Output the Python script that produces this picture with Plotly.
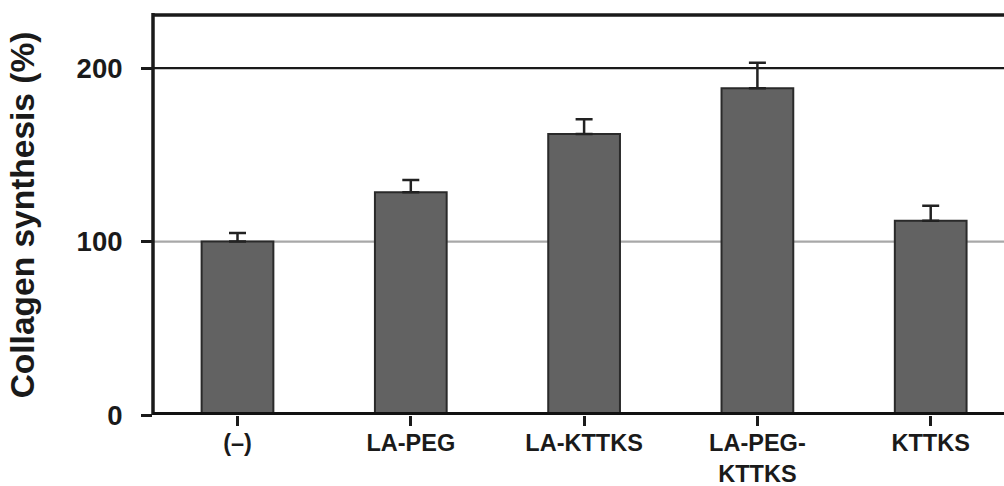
import plotly.graph_objects as go

categories = ["(–)", "LA-PEG", "LA-KTTKS", "LA-PEG-<br>KTTKS", "KTTKS"]
values = [100, 128.5, 162, 188.5, 112]
errors = [5, 7, 8.6, 14.7, 8.7]
ytick_vals = [0, 100, 200]
ytick_text = ["0", "100", "200"]
grid_colors = {100: "#a8a8a8", 200: "#1a1a1a"}

W, H = 1004, 486
ml, mr, mt, mb = 153, 0, 15, 71
px_per_cat = 173.3
x0 = -84.5 / px_per_cat
x1 = x0 + (W - ml - mr) / px_per_cat
plot_h = H - mt - mb
y_top = plot_h / 1.734

fig = go.Figure()
fig.add_trace(go.Bar(
    x=list(range(len(categories))), y=values,
    width=0.414,
    marker=dict(color="#626262", line=dict(color="#2a2a2a", width=2)),
    error_y=dict(type="data", array=errors, arrayminus=[0]*len(errors),
                 symmetric=False, color="#222222", thickness=2.5, width=8.5),
))

shapes = []
for v in ytick_vals[1:]:
    shapes.append(dict(type="line", xref="paper", x0=0, x1=1, yref="y", y0=v, y1=v,
                       line=dict(color=grid_colors[v], width=2.2), layer="below"))
# frame lines
shapes.append(dict(type="line", xref="paper", x0=0, x1=1, yref="paper", y0=1, y1=1,
                   line=dict(color="#1a1a1a", width=3.5), layer="above"))
shapes.append(dict(type="line", xref="paper", x0=0, x1=0, yref="paper", y0=0, y1=1.005,
                   line=dict(color="#1a1a1a", width=3.5), layer="above"))
shapes.append(dict(type="line", xref="paper", x0=0, x1=1, yref="y", y0=0, y1=0,
                   line=dict(color="#111111", width=6), layer="above"))

fig.update_layout(
    width=W, height=H,
    margin=dict(l=ml, r=mr, t=mt, b=mb, pad=0, autoexpand=False),
    paper_bgcolor="white", plot_bgcolor="white",
    showlegend=False,
    shapes=shapes,
    font=dict(family="Liberation Sans, Arial, sans-serif", color="#1a1a1a"),
    xaxis=dict(
        range=[x0, x1], automargin=False,
        tickmode="array", tickvals=list(range(len(categories))), ticktext=categories,
        tickson="boundaries",
        ticks="outside", ticklen=10, tickwidth=2.5, tickcolor="#1a1a1a",
        tickfont=dict(size=23.5, weight="bold", color="#1a1a1a"),
        ticklabelstandoff=-3,
        showline=False, showgrid=False, zeroline=False,
    ),
    yaxis=dict(
        range=[0, y_top], automargin=False,
        tickmode="array", tickvals=ytick_vals, ticktext=ytick_text,
        ticks="outside", ticklen=11, tickwidth=2.5, tickcolor="#1a1a1a",
        tickfont=dict(size=27.5, weight="bold", color="#1a1a1a"),
        ticklabelstandoff=13,
        showline=False, showgrid=False, zeroline=False,
        title=dict(text="Collagen synthesis (%)",
                   font=dict(size=33.5, weight="bold", color="#1a1a1a"),
                   standoff=31),
    ),
)

fig.write_html("out.html", config={"displayModeBar": False},
               post_script="document.body.style.margin='0';document.body.style.overflow='hidden';")
